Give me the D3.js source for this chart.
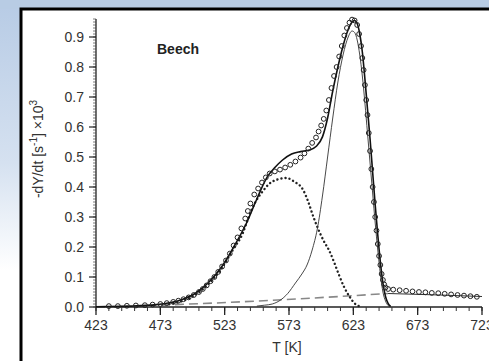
<!DOCTYPE html>
<html>
<head>
<meta charset="utf-8">
<script src="https://cdn.jsdelivr.net/npm/d3@7"></script>
<style>
  body { margin: 0; }
  svg { display: block; font-family: "Liberation Sans", Arial, sans-serif; }
</style>
</head>
<body>
<div id="chart"></div>
<script>
// measured points (circles): [T, -dY/dt]
var measured = [
  [433,.003],[440,.003],[447,.004],[454,.005],[461,.006],[467,.008],[473,.010],[478,.013],
  [483,.017],[487,.021],[491,.026],[495,.032],[499,.040],[503,.050],[506,.060],[509,.072],
  [512,.086],[515,.100],[518,.117],[521,.135],[524,.155],[527,.178],[530,.205],[533,.232],
  [536,.262],[539,.295],[541,.320],[543,.345],[546,.375],[549,.395],[552,.415],[555,.432],
  [558,.445],[562,.452],[566,.458],[570,.465],[574,.474],[578,.485],[582,.498],[585,.512],
  [588,.528],[591,.547],[594,.565],[596,.585],[598,.605],[600,.627],[602,.655],[604,.690],
  [606,.730],[608,.770],[610,.800],[612,.835],[614,.870],[616,.905],[618,.930],[620,.948],
  [622,.958],[624,.955],[626,.940],[627.5,.910],[629,.870],[630,.830],[631,.790],[632,.740],
  [633,.690],[634,.640],[635,.580],[636,.520],[637,.460],[638,.400],[639,.350],[640,.300],
  [641,.255],[642,.210],[643,.170],[644,.140],[645,.110],[646,.090],[647,.075],[648,.065],
  [650,.060],[654,.058],[659,.056],[664,.054],[669,.052],[674,.050],[679,.049],[684,.047],
  [689,.046],[694,.044],[699,.042],[704,.040],[709,.038],[714,.036],[719,.034]
];
// model fit (thick solid)
var fit = [
  [423,.001],[450,.003],[470,.008],[490,.025],[500,.045],[510,.080],[520,.130],[530,.200],
  [540,.280],[548,.360],[556,.433],[562,.465],[568,.490],[575,.510],[582,.518],[589,.523],
  [594,.535],[599,.567],[603,.630],[607,.720],[611,.800],[615,.870],[619,.925],[622,.950],
  [624,.955],[626,.945],[628,.910],[630,.850],[632,.760],[634,.660],[636,.560],[638,.450],
  [640,.340],[642,.240],[644,.150],[646,.080],[648,.035],[650,.012],[652,.002]
];
// component 1 (dotted)
var comp1 = [
  [480,.010],[490,.020],[500,.040],[510,.075],[520,.125],[530,.195],[537,.245],[540,.280],
  [544,.325],[548,.358],[553,.388],[558,.412],[564,.425],[571,.430],[577,.418],[584,.390],
  [588,.350],[592,.300],[595,.267],[600,.220],[604,.190],[608,.150],[612,.105],[616,.065],
  [620,.035],[624,.012],[628,.002]
];
// component 2 (thin solid)
var comp2 = [
  [548,.003],[554,.006],[560,.010],[566,.022],[572,.045],[578,.080],[583,.110],[587,.140],
  [591,.190],[595,.260],[599,.370],[603,.500],[607,.630],[611,.750],[615,.840],[619,.900],
  [622,.920],[624,.915],[626,.890],[628,.840],[630,.770],[632,.680],[634,.580],[636,.480],
  [638,.380],[640,.280],[642,.190],[644,.110],[646,.050],[648,.020],[650,.005],[652,0]
];
// component 3 (dashed) and its tail
var comp3 = [[430,0],[535,.017],[650,.045]];
var tail = [[650,.045],[690,.040],[723,.035]];

var xTicks = [423,473,523,573,623,673,723];
var yTicks = [0,.1,.2,.3,.4,.5,.6,.7,.8,.9];

var W = 489, H = 361;
var svg = d3.select("#chart").append("svg").attr("width", W).attr("height", H);

var defs = svg.append("defs");
var g1 = defs.append("linearGradient").attr("id","bg").attr("x1",0).attr("y1",0).attr("x2",0).attr("y2",1);
g1.append("stop").attr("offset","0%").attr("stop-color","#b7cbe5");
g1.append("stop").attr("offset","45%").attr("stop-color","#d5e1f0");
g1.append("stop").attr("offset","75%").attr("stop-color","#ffffff");
svg.append("rect").attr("width", W).attr("height", H).attr("fill","url(#bg)");
svg.append("rect").attr("width", W).attr("height", 9).attr("fill","#b8cce4");
svg.append("rect").attr("x",21).attr("y",9).attr("width",480).attr("height",360)
  .attr("fill","#fff").attr("stroke","#000").attr("stroke-width",3);

var x = d3.scaleLinear().domain([423,723]).range([96,482]);
var y = d3.scaleLinear().domain([0,0.96]).range([307,19]);

// y axis
var ya = svg.append("g").attr("transform","translate(96,0)");
ya.append("line").attr("y1",y(0)).attr("y2",y(0.96)).attr("stroke","#222").attr("stroke-width",1.3);
ya.selectAll("line.mn").data(d3.range(0,97).map(function(i){return i/100;})).enter()
  .append("line").attr("class","mn")
  .attr("x1",-3).attr("x2",0)
  .attr("y1",function(d){return y(d);}).attr("y2",function(d){return y(d);})
  .attr("stroke","#444").attr("stroke-width",0.7);
ya.selectAll("line.mj").data(yTicks).enter()
  .append("line").attr("class","mj")
  .attr("x1",-7).attr("x2",0)
  .attr("y1",function(d){return y(d);}).attr("y2",function(d){return y(d);})
  .attr("stroke","#222").attr("stroke-width",1.2);
ya.selectAll("text").data(yTicks).enter().append("text")
  .attr("x",-12).attr("y",function(d){return y(d)+5;})
  .attr("text-anchor","end").attr("font-size","14px").attr("fill","#333")
  .text(function(d){return d.toFixed(1);});

// x axis
var xa = svg.append("g").attr("transform","translate(0,307)");
xa.append("line").attr("x1",x(423)).attr("x2",x(723)).attr("stroke","#222").attr("stroke-width",1.3);
xa.selectAll("line.mn").data(d3.range(423,724,10)).enter()
  .append("line").attr("class","mn")
  .attr("x1",function(d){return x(d);}).attr("x2",function(d){return x(d);})
  .attr("y1",0).attr("y2",4).attr("stroke","#333").attr("stroke-width",1);
xa.selectAll("line.mj").data(xTicks).enter()
  .append("line").attr("class","mj")
  .attr("x1",function(d){return x(d);}).attr("x2",function(d){return x(d);})
  .attr("y1",0).attr("y2",8).attr("stroke","#222").attr("stroke-width",1.3);
xa.selectAll("text").data(xTicks).enter().append("text")
  .attr("x",function(d){return x(d);}).attr("y",23)
  .attr("text-anchor","middle").attr("font-size","14px").attr("fill","#333")
  .text(function(d){return d;});

// labels
svg.append("text").attr("x",287).attr("y",352).attr("text-anchor","middle")
  .attr("font-size","14px").attr("fill","#333").text("T [K]");
var yl = svg.append("text").attr("transform","translate(43,149) rotate(-90)")
  .attr("text-anchor","middle").attr("font-size","14px").attr("fill","#333");
yl.append("tspan").text("-dY/dt  [s");
yl.append("tspan").attr("dy",-6).attr("font-size","10px").text("-1");
yl.append("tspan").attr("dy",6).text("]  \u00d710");
yl.append("tspan").attr("dy",-6).attr("font-size","10px").text("3");
svg.append("text").attr("x",157).attr("y",54).attr("font-size","14px")
  .attr("font-weight","bold").attr("fill","#222").text("Beech");

// curves
var line = d3.line().x(function(d){return x(d[0]);}).y(function(d){return y(d[1]);}).curve(d3.curveMonotoneX);
svg.append("path").datum(comp3).attr("d",line).attr("fill","none")
  .attr("stroke","#888").attr("stroke-width",1.6).attr("stroke-dasharray","9,5");
svg.append("path").datum(tail).attr("d",line).attr("fill","none")
  .attr("stroke","#333").attr("stroke-width",1);
svg.append("path").datum(comp1).attr("d",line).attr("fill","none")
  .attr("stroke","#222").attr("stroke-width",2.4).attr("stroke-linecap","round").attr("stroke-dasharray","0.1,4");
svg.append("path").datum(comp2).attr("d",line).attr("fill","none")
  .attr("stroke","#333").attr("stroke-width",0.9);
svg.append("path").datum(fit).attr("d",line).attr("fill","none")
  .attr("stroke","#111").attr("stroke-width",1.6);
svg.selectAll("circle.m").data(measured).enter().append("circle").attr("class","m")
  .attr("cx",function(d){return x(d[0]);}).attr("cy",function(d){return y(d[1]);})
  .attr("r",2.4).attr("fill","none").attr("stroke","#222").attr("stroke-width",1);
</script>
</body>
</html>
